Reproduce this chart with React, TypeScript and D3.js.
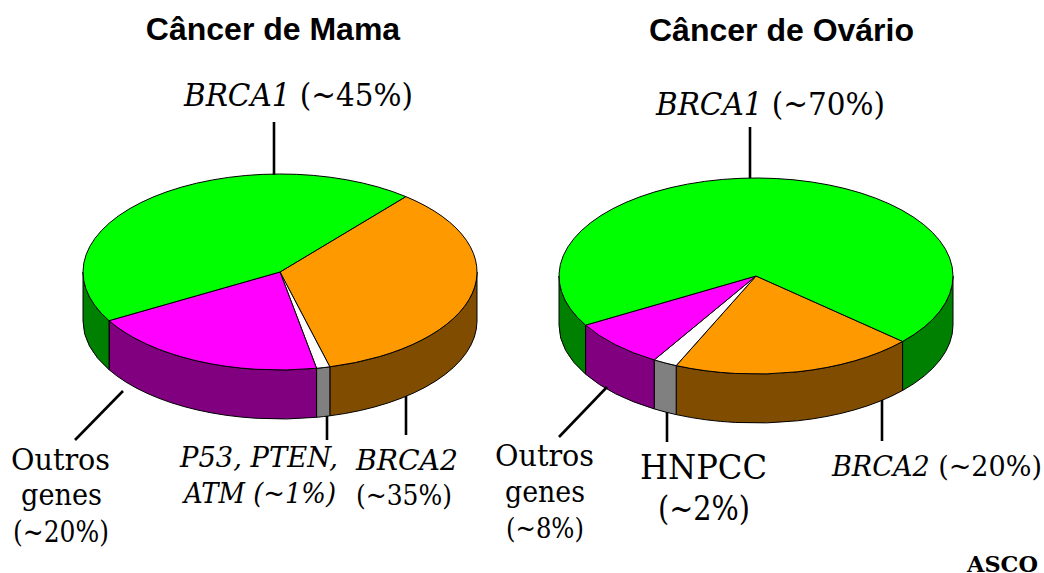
import React from "react";
import * as d3 from "d3";

// slice order runs clockwise from the start angle
const sliceNames = ["BRCA2", "outros1", "outros2", "BRCA1"];
const mamaValues = [34.9, 1.1, 19.7, 44.3];
const ovarioValues = [20, 2, 8, 70];
const topColors = ["#ff9900", "#ffffff", "#ff00ff", "#00ff00"];
const sideColors = ["#804d00", "#808080", "#800080", "#008000"];

const mamaStartDeg = 39.7;
const ovarioStartDeg = 131.9;

const RX = 197;
const RY = 98;
const DEPTH = 49;

const TAU = Math.PI * 2;

type Slice = d3.PieArcDatum<number>;

const pointAt = (a: number, dy = 0): [number, number] => [
  RX * Math.sin(a),
  -RY * Math.cos(a) + dy,
];

// front wall of a slice: only the part between 90deg and 270deg can be seen
function sidePaths(s: Slice): string[] {
  const out: string[] = [];
  [-1, 0, 1].forEach((k) => {
    const a0 = Math.max(s.startAngle + k * TAU, Math.PI / 2);
    const a1 = Math.min(s.endAngle + k * TAU, (3 * Math.PI) / 2);
    if (a1 <= a0) return;
    const [x0, y0] = pointAt(a0);
    const [x1, y1] = pointAt(a1);
    out.push(
      `M${x0},${y0}A${RX},${RY} 0 0 1 ${x1},${y1}L${x1},${y1 + DEPTH}A${RX},${RY} 0 0 0 ${x0},${y0 + DEPTH}Z`
    );
  });
  return out;
}

const Pie3D = ({ cx, cy, values, startDeg }: { cx: number; cy: number; values: number[]; startDeg: number }) => {
  const start = (startDeg * Math.PI) / 180;
  const slices = d3
    .pie<number>()
    .sort(null)
    .value((d) => d)
    .startAngle(start)
    .endAngle(start + TAU)(values);
  const arc = d3.arc<Slice>().innerRadius(0).outerRadius(RX);

  return (
    <g transform={`translate(${cx},${cy})`}>
      {slices.map((s, i) =>
        sidePaths(s).map((d, j) => (
          <path key={`${sliceNames[i]}-${j}`} d={d} fill={sideColors[i]} stroke="#000" strokeWidth={1} strokeLinejoin="round" />
        ))
      )}
      <g transform={`scale(1,${RY / RX})`}>
        {slices.map((s, i) => (
          <path
            key={sliceNames[i]}
            d={arc(s) as string}
            fill={topColors[i]}
            stroke="#000"
            strokeWidth={1}
            strokeLinejoin="round"
            vectorEffect="non-scaling-stroke"
          />
        ))}
      </g>
    </g>
  );
};

const Leader = ({ x1, y1, x2, y2 }: { x1: number; y1: number; x2: number; y2: number }) => (
  <line x1={x1} y1={y1} x2={x2} y2={y2} stroke="#000" strokeWidth={2.6} />
);

const serif = "'DejaVu Serif', serif";

// w: width of the line in the reference, the font here runs a bit wider or narrower
const Label = ({ x, y, w, size = 30, children, italic }: any) => (
  <text
    x={x}
    y={y}
    fontFamily={serif}
    fontSize={size}
    fontStyle={italic ? "italic" : "normal"}
    textLength={w}
    lengthAdjust="spacingAndGlyphs"
    fill="#000"
  >
    {children}
  </text>
);

const Title = ({ x, y, children }: any) => (
  <text x={x} y={y} fontFamily="'Liberation Sans', Arial, sans-serif" fontWeight="bold" fontSize={32} textAnchor="middle" fill="#000">
    {children}
  </text>
);

export default function App() {
  return (
    <svg width={1044} height={573} style={{ position: "absolute", left: 0, top: 0, background: "#fff" }}>
      <Title x={273} y={40}>Câncer de Mama</Title>
      <Title x={781.5} y={41}>Câncer de Ovário</Title>

      <Pie3D cx={280} cy={272} values={mamaValues} startDeg={mamaStartDeg} />
      <Pie3D cx={756} cy={276} values={ovarioValues} startDeg={ovarioStartDeg} />

      <Leader x1={274} y1={122} x2={274} y2={175} />
      <Leader x1={123} y1={391} x2={75} y2={440} />
      <Leader x1={327} y1={416} x2={327} y2={440} />
      <Leader x1={406} y1={396} x2={406} y2={435} />
      <Leader x1={750} y1={127} x2={750} y2={178} />
      <Leader x1={607} y1={387} x2={559} y2={437} />
      <Leader x1={667} y1={412} x2={667} y2={442} />
      <Leader x1={882} y1={400} x2={882} y2={441} />

      <Label x={184} y={106} w={229} size={31}>
        <tspan fontStyle="italic">BRCA1</tspan> (~45%)
      </Label>
      <Label x={11} y={470} w={99}>Outros</Label>
      <Label x={21} y={505} w={81}>genes</Label>
      <Label x={13} y={542} w={96}>(~20%)</Label>
      <Label x={180} y={467} w={158} size={27.5} italic>P53, PTEN,</Label>
      <Label x={184} y={503} w={152} size={27.5} italic>ATM (~1%)</Label>
      <Label x={356} y={470} w={102} size={28.5} italic>BRCA2</Label>
      <Label x={356} y={505} w={96} size={28.5}>(~35%)</Label>

      <Label x={656} y={115} w={229} size={31}>
        <tspan fontStyle="italic">BRCA1</tspan> (~70%)
      </Label>
      <Label x={495} y={466} w={99}>Outros</Label>
      <Label x={505} y={502} w={80}>genes</Label>
      <Label x={506} y={538} w={78} size={28.5}>(~8%)</Label>
      <Label x={640} y={479} w={127} size={34}>HNPCC</Label>
      <Label x={658} y={520} w={92} size={34}>(~2%)</Label>
      <Label x={832} y={476} w={210} size={28}>
        <tspan fontStyle="italic">BRCA2</tspan> (~20%)
      </Label>

      <text x={967} y={572} fontFamily={serif} fontWeight="bold" fontSize={22} textLength={71} lengthAdjust="spacingAndGlyphs" fill="#000">
        ASCO
      </text>
    </svg>
  );
}
